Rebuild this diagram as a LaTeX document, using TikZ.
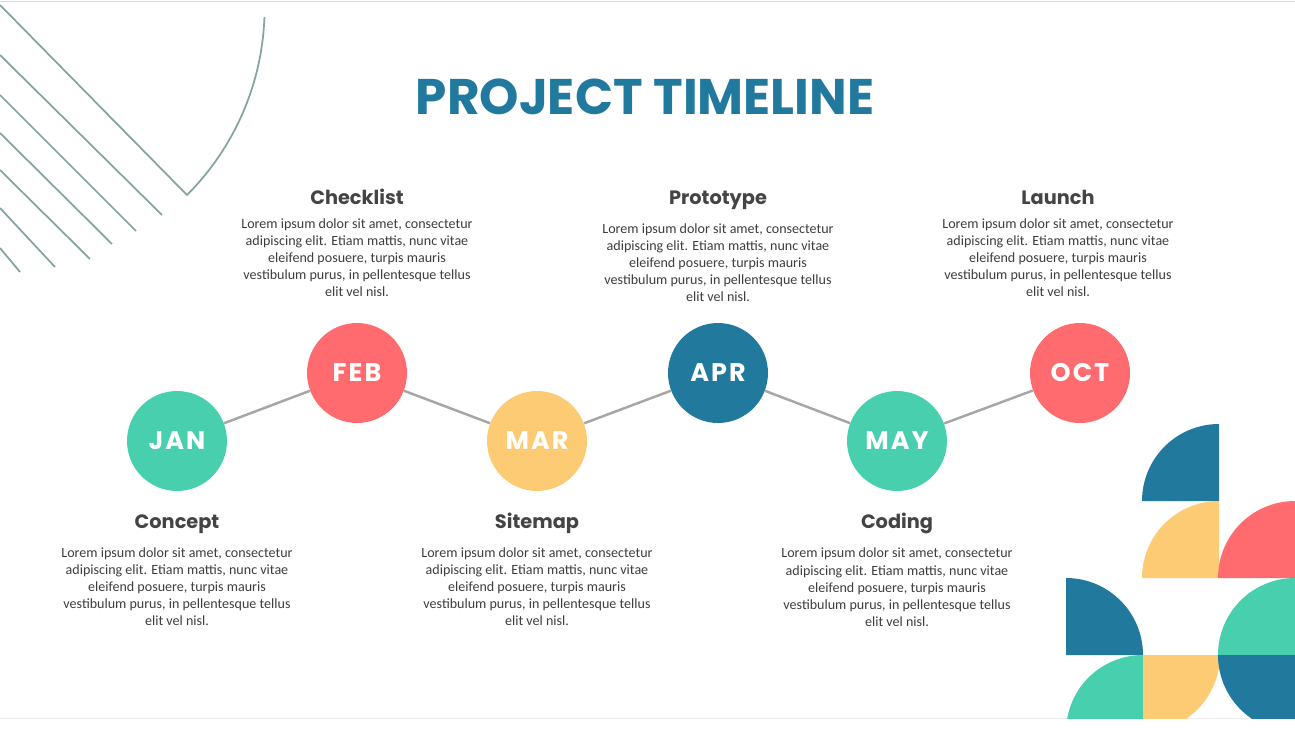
\documentclass[tikz,border=0pt]{standalone}
\usepackage{fontspec}
\usetikzlibrary{positioning}
\setmainfont{Carlito}
\newfontfamily\headfont{Poppins}
\definecolor{tgreen}{HTML}{48CFAE}
\definecolor{tred}{HTML}{FF6B6F}
\definecolor{tyellow}{HTML}{FECB75}
\definecolor{tblue}{HTML}{21799E}
\definecolor{tline}{HTML}{86A3A3}
\definecolor{tgray}{HTML}{444444}
\tikzset{
  month/.style={circle, minimum size=2cm, inner sep=0pt, text=white,
    font=\headfont\fontsize{14.5}{16}\bfseries\addfontfeatures{LetterSpace=8}},
  head/.style={text=tgray, font=\headfont\fontsize{11}{13}\selectfont\bfseries},
  body/.style={text=tgray!90!black, align=center, font=\fontsize{8}{9.7}\selectfont},
  link/.style={draw=black!35, line width=1.4pt},
  deco/.style={draw=tline, line width=1pt}
}
\newcommand{\lorem}{Lorem ipsum dolor sit amet, consectetur\\adipiscing elit. Etiam mattis, nunc vitae\\eleifend posuere, turpis mauris\\vestibulum purus, in pellentesque tellus\\elit vel nisl.}
\begin{document}
\begin{tikzpicture}[x=0.02cm, y=-0.02cm]
  \useasboundingbox (0,0) rectangle (1295,750);
  \draw[black!15] (0,1) -- (1295,1);
  \draw[black!8] (0,718) -- (1295,718);
  % top left lines
  \draw[deco] (0,5) -- (187,195) arc[start angle=45, end angle=2, radius=265];
  \foreach \ys/\xe/\ye in {55/162/215, 95/136/231, 133/112/244, 170/90/259, 208/55/267, 248/20/272}
    \draw[deco] (0,\ys) -- (\xe,\ye);
  % bottom right tiles
  \begin{scope}
    \clip (1000,400) rectangle (1295,718);
    \fill[tblue] (1219,501) -- ++(-77,0) arc[start angle=180, end angle=270, radius=77] -- cycle;
    \fill[tyellow] (1219,578) -- ++(-77,0) arc[start angle=180, end angle=270, radius=77] -- cycle;
    \fill[tred] (1295,578) -- ++(-77,0) arc[start angle=180, end angle=270, radius=77] -- cycle;
    \fill[tblue] (1066,655) -- ++(77,0) arc[start angle=0, end angle=-90, radius=77] -- cycle;
    \fill[tgreen] (1295,655) -- ++(-77,0) arc[start angle=180, end angle=270, radius=77] -- cycle;
    \fill[tgreen] (1143,732) -- ++(-77,0) arc[start angle=180, end angle=270, radius=77] -- cycle;
    \fill[tyellow] (1143,655) -- ++(77,0) arc[start angle=0, end angle=90, radius=77] -- cycle;
    \fill[tblue] (1295,655) -- ++(-77,0) arc[start angle=180, end angle=90, radius=77] -- cycle;
  \end{scope}
  % title
  \node (title) at (645,97) {\headfont\fontsize{28.5}{32}\bfseries\color{tblue}PROJECT TIMELINE};
  % months
  \node[month, fill=tgreen] (jan) at (177,441) {JAN};
  \node[month, fill=tred] (feb) at (357,373) {FEB};
  \node[month, fill=tyellow] (mar) at (537,441) {MAR};
  \node[month, fill=tblue] (apr) at (718,373) {APR};
  \node[month, fill=tgreen] (may) at (897,441) {MAY};
  \node[month, fill=tred] (oct) at (1080,373) {OCT};
  \draw[link] (jan) -- (feb) -- (mar) -- (apr) -- (may) -- (oct);
  % texts
  \node[head, anchor=base] (checklist) at (357,204) {Checklist};
  \node[head, anchor=base] (prototype) at (718,204) {Prototype};
  \node[head, anchor=base] (launch) at (1058,204) {Launch};
  \node[head, anchor=base] (concept) at (177,528) {Concept};
  \node[head, anchor=base] (sitemap) at (537,528) {Sitemap};
  \node[head, anchor=base] (coding) at (897,528) {Coding};
  \foreach \n in {checklist, prototype, launch, concept, sitemap, coding}
    \node[body, below=0.5mm of \n] (\n-text) {\lorem};
\end{tikzpicture}
\end{document}
